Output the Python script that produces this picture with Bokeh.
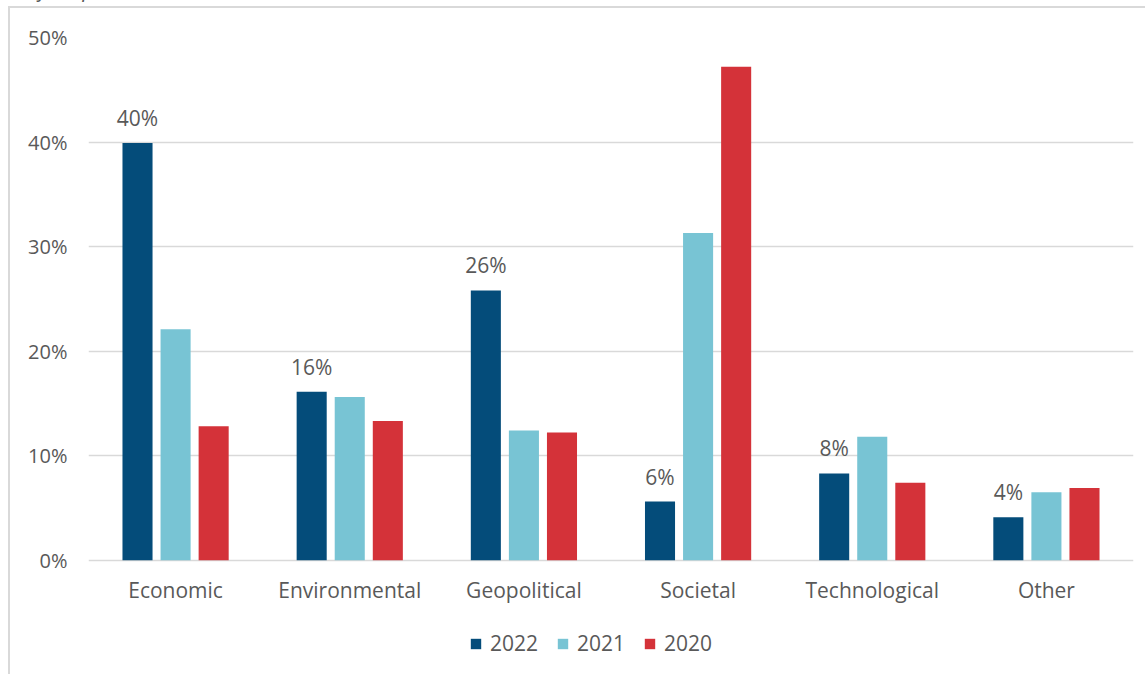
from bokeh.plotting import figure
from bokeh.models import (ColumnDataSource, FactorRange, Range1d, FixedTicker,
                          NumeralTickFormatter, Legend, LegendItem, Div)
from bokeh.layouts import column
from bokeh.transform import dodge
from bokeh.core.properties import value
from bokeh.embed import file_html
from bokeh.resources import INLINE

# ---- data ----
categories = ["Economic", "Environmental", "Geopolitical", "Societal", "Technological", "Other"]
years = ["2022", "2021", "2020"]
share_2022 = [0.399, 0.161, 0.258, 0.056, 0.083, 0.041]
share_2021 = [0.221, 0.156, 0.124, 0.313, 0.118, 0.065]
share_2020 = [0.128, 0.133, 0.122, 0.472, 0.074, 0.069]
labels_2022 = [f"{v * 100:.0f}%" for v in share_2022]
y_ticks = [0.0, 0.1, 0.2, 0.3, 0.4, 0.5]
title_text = "% of Responses in Given Year"

# ---- style ----
colors = {"2022": "#044C7A", "2021": "#78C4D4", "2020": "#D43239"}
text_gray = "#595959"
font = "Open Sans"
offset = 0.2186
bar_w = 0.1726
y_top = 0.5
frame_h = 637          # plot area reaches the bottom so the legend sits inside it
axis_px = 521          # pixels between 0% and 50%
y_bottom = y_top - y_top * frame_h / axis_px

src = ColumnDataSource(dict(cat=categories, y2022=share_2022, y2021=share_2021,
                            y2020=share_2020, lab=labels_2022,
                            base=[0.0] * len(categories)))

p = figure(x_range=FactorRange(factors=categories, range_padding=0),
           y_range=Range1d(y_bottom, y_top), frame_width=1043, frame_height=frame_h,
           width=1139, height=666, x_axis_location=None,
           output_backend="svg", toolbar_location=None,
           min_border_left=78, min_border_right=14, min_border_top=29,
           min_border_bottom=0)

renderers = []
for yr, off in zip(years, [-offset, 0.0, offset]):
    r = p.vbar(x=dodge("cat", off, range=p.x_range), top="y" + yr, bottom="base",
               width=bar_w, source=src, fill_color=colors[yr], line_color=None)
    renderers.append(r)

# data labels on 2022 bars
p.text(x=dodge("cat", -offset, range=p.x_range), y="y2022", text="lab", source=src,
       text_align="center", text_baseline="alphabetic", y_offset=-25,
       text_font=value(font), text_font_size="21px", text_color=text_gray)

# category labels under the baseline
p.text(x="cat", y="base", text="cat", source=src,
       text_align="center", text_baseline="alphabetic", y_offset=30,
       text_font=value(font), text_font_size="21px", text_color=text_gray)

ax = p.yaxis[0]
ax.axis_line_color = None
ax.major_tick_line_color = None
ax.minor_tick_line_color = None
ax.major_tick_out = 0
ax.major_tick_in = 0
ax.major_label_text_font = font
ax.major_label_text_color = text_gray
ax.major_label_text_font_size = "20px"
ax.ticker = FixedTicker(ticks=y_ticks)
ax.formatter = NumeralTickFormatter(format="0%")
ax.major_label_standoff = 21

p.xgrid.grid_line_color = None
p.ygrid.grid_line_color = "#d9d9d9"
p.ygrid.grid_line_width = 1.5
p.outline_line_color = None
p.background_fill_color = "white"
p.border_fill_color = "white"

legend = Legend(items=[LegendItem(label=yr, renderers=[r]) for yr, r in zip(years, renderers)],
                orientation="horizontal", location=(381, 19), padding=0, margin=0,
                border_line_color=None, background_fill_alpha=0,
                glyph_width=13, glyph_height=13, label_standoff=8, spacing=18,
                label_text_font=font, label_text_font_size="21px",
                label_text_color=text_gray)
p.add_layout(legend)

p.styles = {"border-left": "2px solid #d9d9d9", "border-top": "2px solid #d9d9d9",
            "position": "relative", "left": "8px"}

title = Div(text=title_text, width=600, height=24,
            styles={"font-style": "italic", "color": text_gray, "font-size": "21px",
                    "font-family": font, "line-height": "24px", "white-space": "nowrap",
                    "margin-top": "-23px"})

layout = column(title, p, spacing=0)

open("out.html", "w").write(file_html(layout, INLINE))
